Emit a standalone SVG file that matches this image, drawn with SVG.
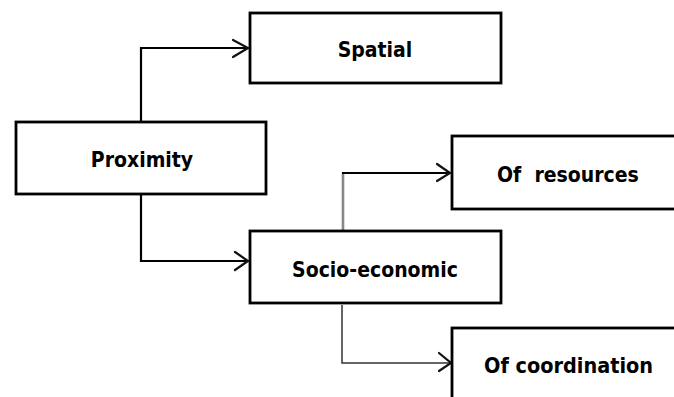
<svg xmlns="http://www.w3.org/2000/svg" width="674" height="397" viewBox="0 0 674 397">
<style>
.box{fill:#fff;stroke:#000;stroke-width:2.8}
.lbl{font-family:"DejaVu Sans Condensed","DejaVu Sans",Verdana,sans-serif;font-stretch:condensed;font-weight:bold;font-size:21px;fill:#000;white-space:pre}
.c{fill:none;stroke:#000;stroke-width:2.2}
.ah{fill:none;stroke:#111;stroke-width:2.2;stroke-linecap:round}
</style>
<rect width="674" height="397" fill="#fff"/>
<g id="connectors">
<polyline class="c" points="141,121 141,48 248,48"/>
<polyline class="ah" points="233,40 248,48 233,57"/>
<polyline class="c" points="141,195 141,261 248,261" stroke="#222"/>
<polyline class="ah" points="235,252 248,261 235,270"/>
<line x1="343" y1="231" x2="343" y2="173" stroke="#888" stroke-width="2.6"/>
<line x1="342" y1="173" x2="450" y2="173" stroke="#000" stroke-width="2.2"/>
<polyline class="ah" points="437,164 450,173 437,181"/>
<polyline fill="none" stroke="#333" stroke-width="1.5" points="342,305 342,363 451,363"/>
<polyline class="ah" points="439,353 451,363 439,371"/>
</g>
<g id="spatial">
<rect class="box" x="250" y="13" width="251" height="70"/>
<text class="lbl" x="375" y="57" text-anchor="middle">Spatial</text>
</g>
<g id="proximity">
<rect class="box" x="16" y="122" width="250" height="72"/>
<text class="lbl" x="142" y="167" text-anchor="middle">Proximity</text>
</g>
<g id="socio">
<rect class="box" x="250" y="231" width="251" height="72"/>
<text class="lbl" x="375" y="277" text-anchor="middle">Socio-economic</text>
</g>
<g id="resources">
<rect class="box" x="452" y="136" width="240" height="73"/>
<text class="lbl" x="497" y="182">Of  resources</text>
</g>
<g id="coordination">
<rect class="box" x="452" y="328" width="240" height="90"/>
<text class="lbl" x="484" y="373" textLength="169" lengthAdjust="spacingAndGlyphs">Of coordination</text>
</g>
</svg>
